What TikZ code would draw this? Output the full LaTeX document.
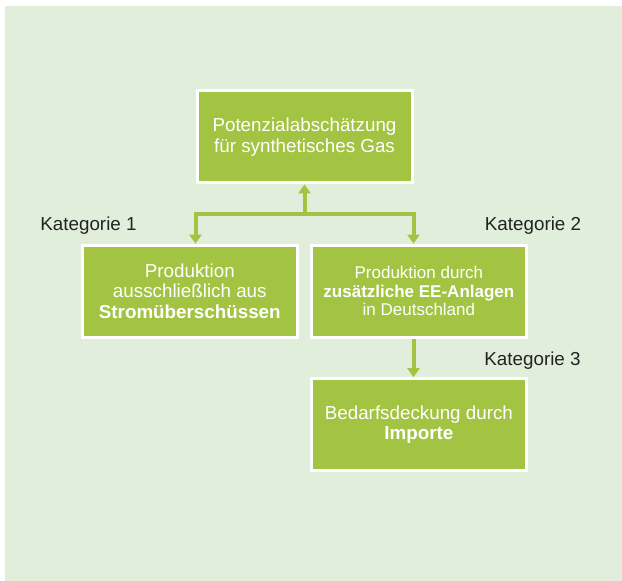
\documentclass[tikz,border=0pt]{standalone}
\usepackage{fontspec}
\setmainfont{Liberation Sans}
\usetikzlibrary{arrows.meta}
\definecolor{bggreen}{HTML}{E2EEDC}
\definecolor{boxgreen}{HTML}{A3C442}
\definecolor{txtdark}{HTML}{222222}
\tikzset{
  box/.style={rectangle, draw=white, line width=3pt, fill=boxgreen, text=white,
    minimum width=215pt, minimum height=92pt, inner sep=0pt, align=center,
    font=\fontsize{18.8}{20.5}\selectfont},
  smallbox/.style={box, font=\fontsize{17}{18.6}\selectfont},
  katlabel/.style={text=txtdark, inner sep=0pt, font=\fontsize{18.8}{22}\selectfont},
  arr/.style={draw=boxgreen, line width=4pt, -{Triangle[width=12pt,length=9pt]}}
}
\begin{document}
\begin{tikzpicture}[x=1pt,y=1pt]
\useasboundingbox (0,0) rectangle (622,581);
\fill[white] (0,0) rectangle (622,581);
\fill[bggreen] (5,0) rectangle (622,575.4);

\node[box] (top) at (304.5,444.1) {Potenzialabschätzung\\für synthetisches Gas};
\node[box] (left) at (189.8,289.8) {Produktion\\ausschließlich aus\\\textbf{Stromüberschüssen}};
\node[smallbox] (right) at (418.9,289.8) {Produktion durch\\\textbf{zusätzliche EE-Anlagen}\\in Deutschland};
\node[box] (bottom) at (418.9,156.3) {Bedarfsdeckung durch\\\textbf{Importe}};

\node[katlabel] (k1) at (88.5,355.4) {Kategorie 1};
\node[katlabel] (k2) at (533,355.4) {Kategorie 2};
\node[katlabel] (k3) at (532.5,220) {Kategorie 3};

\coordinate (j) at (304.5,367);
\draw[arr] (j) -- (top.south);
\draw[arr] (j) -| (top.west |- left.north);
\draw[arr] (j) -| (top.east |- right.north);
\draw[arr] (top.east |- right.south) -- (top.east |- bottom.north);
\end{tikzpicture}
\end{document}
